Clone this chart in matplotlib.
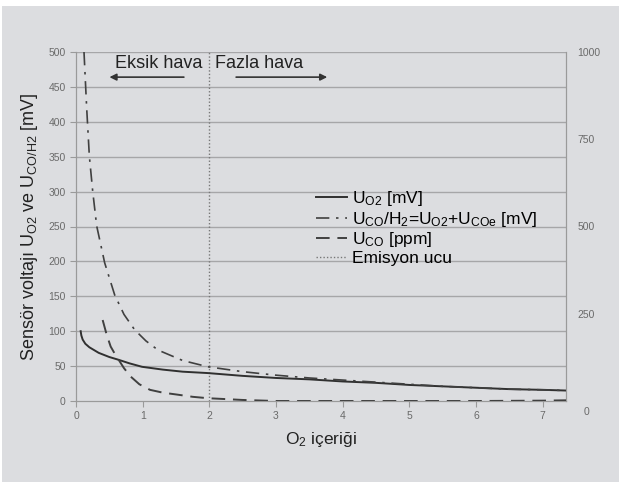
import matplotlib.pyplot as plt
from matplotlib.patches import Rectangle

plt.rcParams['font.family'] = ['Liberation Sans', 'DejaVu Sans']
plt.rcParams['mathtext.default'] = 'regular'

BG = '#dcdde0'
GRID = '#a6a6a8'
TICK = '#6a6a6a'

# O2 signal [mV]
o2_x = [0.07, 0.08, 0.1, 0.14, 0.2, 0.34, 0.5, 0.64, 0.8, 0.99, 1.3, 1.6, 1.98, 2.5, 3.0, 3.5, 4.0, 4.5, 5.0, 5.5, 6.0, 6.5, 7.0, 7.35]
o2_y = [100, 94, 88, 82, 77, 69, 63, 59, 54, 49, 45, 42, 40, 36, 33, 31, 28, 26, 23, 21, 19, 17, 16, 15]

# CO/H2 signal [mV]
coh2_x = [0.12, 0.16, 0.2, 0.25, 0.31, 0.43, 0.58, 0.72, 0.88, 1.05, 1.23, 1.6, 1.98, 2.5, 3.0, 3.5, 4.0, 4.5, 5.0, 5.5, 6.0, 6.5, 7.0, 7.35]
coh2_y = [500, 420, 351, 301, 251, 198, 152, 124, 102, 86, 73, 58, 49, 42, 37, 33, 30, 27, 24, 21, 19, 17, 16, 15]

# CO [ppm] (right axis)
co_x = [0.4, 0.46, 0.52, 0.58, 0.64, 0.72, 0.82, 0.95, 1.11, 1.3, 1.53, 1.75, 1.98, 2.5, 3.0, 4.0, 5.0, 6.0, 7.0, 7.35]
co_y = [232, 190, 156, 136, 118, 94, 70, 48, 32, 24, 18, 12, 8, 3, 0, 0, 0, 0, 1, 2]

emission_x = 2.0

fig = plt.figure(figsize=(6.2, 4.82), dpi=100, facecolor='white')
fig.patches.append(Rectangle((2 / 620, 0), 617 / 620, 476 / 482, transform=fig.transFigure,
                             facecolor=BG, edgecolor='none', zorder=-10))

ax = fig.add_axes([76 / 620, 1 - 401 / 482, 490 / 620, 349 / 482])
ax.set_facecolor('none')
ax.set_xlim(0, 7.35)
ax.set_ylim(0, 500)

for v in range(50, 501, 50):
    ax.axhline(v, color=GRID, lw=1.0, zorder=1)

line1, = ax.plot(o2_x, o2_y, color='#303030', lw=1.4, zorder=3, label='U$_{O2}$ [mV]')
line2, = ax.plot(coh2_x, coh2_y, color='#404040', lw=1.2, ls=(0, (8, 4, 1.5, 4)), zorder=3,
                 label='U$_{CO}$/H$_2$=U$_{O2}$+U$_{COe}$ [mV]')
line4 = ax.axvline(emission_x, color='#777777', lw=1.0, ls=(0, (1, 1.5)), zorder=2, label='Emisyon ucu')

ax2 = ax.twinx()
ax2.set_ylim(0, 1000)
line3, = ax2.plot(co_x, co_y, color='#404040', lw=1.4, ls=(0, (7, 4)), zorder=3, label='U$_{CO}$ [ppm]')

for a in (ax, ax2):
    for s in a.spines.values():
        s.set_color('#9a9a9a')
    a.spines['top'].set_visible(False)

ax.set_yticks(range(0, 501, 50))
ax.set_xticks(range(0, 8))
ax.tick_params(axis='both', colors='#9a9a9a', labelcolor=TICK, labelsize=7.5, length=4, width=0.8)
ax2.set_yticks([250, 500, 750, 1000])
ax2.tick_params(axis='y', length=0, labelcolor=TICK, labelsize=7.5, pad=8)
ax2.text(1.035, -0.032, '0', transform=ax2.transAxes, color=TICK, fontsize=7.5,
         ha='left', va='center')

ax.set_xlabel('O$_2$ içeriği', fontsize=12.5, color='#222222', labelpad=6)
ax.set_ylabel('Sensör voltajı U$_{O2}$ ve U$_{CO/H2}$ [mV]', fontsize=13, color='#222222', labelpad=6)

ax.text(0.58, 484, 'Eksik hava', fontsize=13, color='#222222', va='center', ha='left')
ax.text(2.08, 484, 'Fazla hava', fontsize=13, color='#222222', va='center', ha='left')
ax.annotate('', xy=(0.46, 464), xytext=(1.66, 464),
            arrowprops=dict(arrowstyle='-|>', color='#333333', lw=1.2, mutation_scale=10))
ax.annotate('', xy=(3.81, 464), xytext=(2.36, 464),
            arrowprops=dict(arrowstyle='-|>', color='#333333', lw=1.2, mutation_scale=10))

leg = ax2.legend(handles=[line1, line2, line3, line4], loc='upper left',
                 bbox_to_anchor=((316 - 76) / 490, 1 - (189 - 52) / 349),
                 frameon=False, fontsize=12.5, handlelength=1.8, handletextpad=0.3,
                 labelspacing=0.1, borderaxespad=0, borderpad=0)

fig.savefig('out.png', dpi=100, facecolor='white')
